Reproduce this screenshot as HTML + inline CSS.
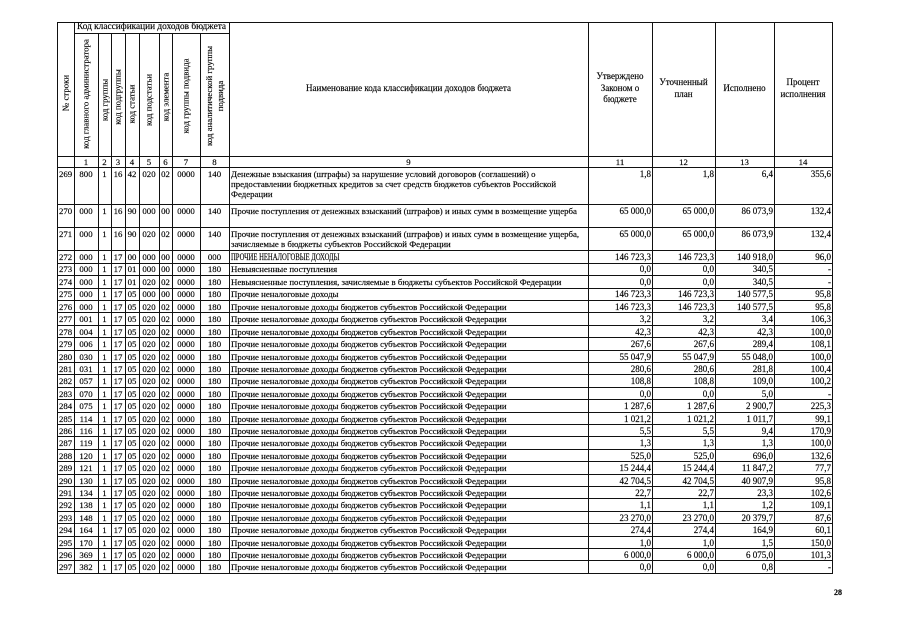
<!DOCTYPE html>
<html><head><meta charset="utf-8">
<style>
html,body{margin:0;padding:0;background:#fff;}
body{width:905px;height:640px;position:relative;overflow:hidden;font-family:"Liberation Serif","Noto Serif CJK SC",serif;color:#000;-webkit-text-stroke:0.15px #000;}
.v{position:absolute;width:1px;background:#111;}
.h{position:absolute;height:1px;background:#111;}
.r{position:absolute;left:0;width:905px;height:12px;font-size:8.8px;}
.r span{position:absolute;top:1px;line-height:10px;white-space:nowrap;}
.c0{left:59px;}
.c1{left:74px;width:24px;text-align:center;}
.c2{left:98px;width:13px;text-align:center;}
.c3{left:111px;width:14px;text-align:center;}
.c4{left:125px;width:14px;text-align:center;}
.c5{left:139px;width:20px;text-align:center;}
.c6{left:159px;width:13px;text-align:center;}
.c7{left:172px;width:28px;text-align:center;}
.c8{left:200px;width:29px;text-align:center;}
.c9{left:231px;}
.c10{left:588px;width:63px;text-align:right;font-size:9px;}
.c11{left:652px;width:62px;text-align:right;font-size:9px;}
.c12{left:715px;width:58px;text-align:right;font-size:9px;}
.c13{left:774px;width:57px;text-align:right;font-size:9px;}
.rot{position:absolute;transform:translate(-50%,-50%) rotate(-90deg);white-space:nowrap;font-size:8.8px;line-height:11px;text-align:center;}
.hd{position:absolute;font-size:9px;line-height:11.7px;text-align:center;white-space:nowrap;}
.caps{display:inline-block;font-size:9.5px;transform:scaleX(0.7);transform-origin:left center;}
</style></head><body>

<!-- vertical lines -->
<div class="v" style="left:57px;top:22px;height:552px"></div>
<div class="v" style="left:74px;top:22px;height:552px"></div>
<div class="v" style="left:98px;top:33px;height:541px"></div>
<div class="v" style="left:111px;top:33px;height:541px"></div>
<div class="v" style="left:125px;top:33px;height:541px"></div>
<div class="v" style="left:139px;top:33px;height:541px"></div>
<div class="v" style="left:159px;top:33px;height:541px"></div>
<div class="v" style="left:172px;top:33px;height:541px"></div>
<div class="v" style="left:200px;top:33px;height:541px"></div>
<div class="v" style="left:229px;top:22px;height:552px"></div>
<div class="v" style="left:588px;top:22px;height:552px"></div>
<div class="v" style="left:652px;top:22px;height:552px"></div>
<div class="v" style="left:715px;top:22px;height:552px"></div>
<div class="v" style="left:774px;top:22px;height:552px"></div>
<div class="v" style="left:832px;top:22px;height:552px"></div>

<!-- horizontal lines -->
<div class="h" style="left:57px;width:776px;top:22px"></div>
<div class="h" style="left:74px;width:155px;top:33px"></div>
<div class="h" style="left:57px;width:776px;top:156px"></div>
<div class="h" style="left:57px;width:776px;top:167px"></div>
<div class="h" style="left:57px;width:776px;top:204px"></div>
<div class="h" style="left:57px;width:776px;top:227px"></div>
<div class="h" style="left:57px;width:776px;top:250px"></div>
<div class="h" style="left:57px;width:776px;top:263px"></div>
<div class="h" style="left:57px;width:776px;top:275px"></div>
<div class="h" style="left:57px;width:776px;top:288px"></div>
<div class="h" style="left:57px;width:776px;top:300px"></div>
<div class="h" style="left:57px;width:776px;top:312px"></div>
<div class="h" style="left:57px;width:776px;top:325px"></div>
<div class="h" style="left:57px;width:776px;top:337px"></div>
<div class="h" style="left:57px;width:776px;top:350px"></div>
<div class="h" style="left:57px;width:776px;top:362px"></div>
<div class="h" style="left:57px;width:776px;top:374px"></div>
<div class="h" style="left:57px;width:776px;top:387px"></div>
<div class="h" style="left:57px;width:776px;top:399px"></div>
<div class="h" style="left:57px;width:776px;top:412px"></div>
<div class="h" style="left:57px;width:776px;top:424px"></div>
<div class="h" style="left:57px;width:776px;top:436px"></div>
<div class="h" style="left:57px;width:776px;top:449px"></div>
<div class="h" style="left:57px;width:776px;top:461px"></div>
<div class="h" style="left:57px;width:776px;top:474px"></div>
<div class="h" style="left:57px;width:776px;top:486px"></div>
<div class="h" style="left:57px;width:776px;top:498px"></div>
<div class="h" style="left:57px;width:776px;top:511px"></div>
<div class="h" style="left:57px;width:776px;top:523px"></div>
<div class="h" style="left:57px;width:776px;top:536px"></div>
<div class="h" style="left:57px;width:776px;top:548px"></div>
<div class="h" style="left:57px;width:776px;top:560px"></div>
<div class="h" style="left:57px;width:776px;top:573px"></div>

<!-- header -->
<div class="hd" style="left:74px;width:155px;top:22px;font-size:9.3px;line-height:11px">Код классификации доходов бюджета</div>
<div class="rot" style="left:66px;top:93px">№ строки</div>
<div class="rot" style="left:86px;top:94px">код главного администратора</div>
<div class="rot" style="left:105px;top:100px">код группы</div>
<div class="rot" style="left:118px;top:97px">код подгруппы</div>
<div class="rot" style="left:132px;top:104px">код статьи</div>
<div class="rot" style="left:149px;top:100px">код подстатьи</div>
<div class="rot" style="left:166px;top:97px">код элемента</div>
<div class="rot" style="left:186px;top:96px">код группы подвида</div>
<div class="rot" style="left:215px;top:96px">код аналитической группы<br>подвида</div>

<div class="hd" style="left:229px;width:359px;top:83px">Наименование кода классификации доходов бюджета</div>
<div class="hd" style="left:588px;width:64px;top:71px">Утверждено<br>Законом о<br>бюджете</div>
<div class="hd" style="left:652px;width:63px;top:77px">Уточненный<br>план</div>
<div class="hd" style="left:715px;width:59px;top:83px">Исполнено</div>
<div class="hd" style="left:774px;width:58px;top:77px">Процент<br>исполнения</div>

<!-- column numbers row -->
<div class="r" style="top:156px"><span class="c1">1</span><span class="c2">2</span><span class="c3">3</span><span class="c4">4</span><span class="c5">5</span><span class="c6">6</span><span class="c7">7</span><span class="c8">8</span><span style="left:229px;width:359px;text-align:center">9</span><span style="left:588px;width:64px;text-align:center">11</span><span style="left:652px;width:63px;text-align:center">12</span><span style="left:715px;width:59px;text-align:center">13</span><span style="left:774px;width:58px;text-align:center">14</span></div>

<!-- data rows -->
<div class="r" style="top:168px;height:36px"><span class="c0">269</span><span class="c1">800</span><span class="c2">1</span><span class="c3">16</span><span class="c4">42</span><span class="c5">020</span><span class="c6">02</span><span class="c7">0000</span><span class="c8">140</span><span class="c9">Денежные взыскания (штрафы) за нарушение условий договоров (соглашений) о<br>предоставлении бюджетных кредитов за счет средств бюджетов субъектов Российской<br>Федерации</span><span class="c10">1,8</span><span class="c11">1,8</span><span class="c12">6,4</span><span class="c13">355,6</span></div>

<div class="r" style="top:205px;height:22px"><span class="c0">270</span><span class="c1">000</span><span class="c2">1</span><span class="c3">16</span><span class="c4">90</span><span class="c5">000</span><span class="c6">00</span><span class="c7">0000</span><span class="c8">140</span><span class="c9">Прочие поступления от денежных взысканий (штрафов) и иных сумм в возмещение ущерба</span><span class="c10">65 000,0</span><span class="c11">65 000,0</span><span class="c12">86 073,9</span><span class="c13">132,4</span></div>

<div class="r" style="top:228px;height:22px"><span class="c0">271</span><span class="c1">000</span><span class="c2">1</span><span class="c3">16</span><span class="c4">90</span><span class="c5">020</span><span class="c6">02</span><span class="c7">0000</span><span class="c8">140</span><span class="c9">Прочие поступления от денежных взысканий (штрафов) и иных сумм в возмещение ущерба,<br>зачисляемые в бюджеты субъектов Российской Федерации</span><span class="c10">65 000,0</span><span class="c11">65 000,0</span><span class="c12">86 073,9</span><span class="c13">132,4</span></div>

<div class="r" style="top:251px"><span class="c0">272</span><span class="c1">000</span><span class="c2">1</span><span class="c3">17</span><span class="c4">00</span><span class="c5">000</span><span class="c6">00</span><span class="c7">0000</span><span class="c8">000</span><span class="c9"><span class="caps" style="position:static">ПРОЧИЕ НЕНАЛОГОВЫЕ ДОХОДЫ</span></span><span class="c10">146 723,3</span><span class="c11">146 723,3</span><span class="c12">140 918,0</span><span class="c13">96,0</span></div>

<div class="r" style="top:263px"><span class="c0">273</span><span class="c1">000</span><span class="c2">1</span><span class="c3">17</span><span class="c4">01</span><span class="c5">000</span><span class="c6">00</span><span class="c7">0000</span><span class="c8">180</span><span class="c9">Невыясненные поступления</span><span class="c10">0,0</span><span class="c11">0,0</span><span class="c12">340,5</span><span class="c13">-</span></div>

<div class="r" style="top:276px"><span class="c0">274</span><span class="c1">000</span><span class="c2">1</span><span class="c3">17</span><span class="c4">01</span><span class="c5">020</span><span class="c6">02</span><span class="c7">0000</span><span class="c8">180</span><span class="c9">Невыясненные поступления, зачисляемые в бюджеты субъектов Российской Федерации</span><span class="c10">0,0</span><span class="c11">0,0</span><span class="c12">340,5</span><span class="c13">-</span></div>

<div class="r" style="top:288px"><span class="c0">275</span><span class="c1">000</span><span class="c2">1</span><span class="c3">17</span><span class="c4">05</span><span class="c5">000</span><span class="c6">00</span><span class="c7">0000</span><span class="c8">180</span><span class="c9">Прочие неналоговые доходы</span><span class="c10">146 723,3</span><span class="c11">146 723,3</span><span class="c12">140 577,5</span><span class="c13">95,8</span></div>

<div class="r" style="top:301px"><span class="c0">276</span><span class="c1">000</span><span class="c2">1</span><span class="c3">17</span><span class="c4">05</span><span class="c5">020</span><span class="c6">02</span><span class="c7">0000</span><span class="c8">180</span><span class="c9">Прочие неналоговые доходы бюджетов субъектов Российской Федерации</span><span class="c10">146 723,3</span><span class="c11">146 723,3</span><span class="c12">140 577,5</span><span class="c13">95,8</span></div>

<div class="r" style="top:313px"><span class="c0">277</span><span class="c1">001</span><span class="c2">1</span><span class="c3">17</span><span class="c4">05</span><span class="c5">020</span><span class="c6">02</span><span class="c7">0000</span><span class="c8">180</span><span class="c9">Прочие неналоговые доходы бюджетов субъектов Российской Федерации</span><span class="c10">3,2</span><span class="c11">3,2</span><span class="c12">3,4</span><span class="c13">106,3</span></div>

<div class="r" style="top:326px"><span class="c0">278</span><span class="c1">004</span><span class="c2">1</span><span class="c3">17</span><span class="c4">05</span><span class="c5">020</span><span class="c6">02</span><span class="c7">0000</span><span class="c8">180</span><span class="c9">Прочие неналоговые доходы бюджетов субъектов Российской Федерации</span><span class="c10">42,3</span><span class="c11">42,3</span><span class="c12">42,3</span><span class="c13">100,0</span></div>

<div class="r" style="top:338px"><span class="c0">279</span><span class="c1">006</span><span class="c2">1</span><span class="c3">17</span><span class="c4">05</span><span class="c5">020</span><span class="c6">02</span><span class="c7">0000</span><span class="c8">180</span><span class="c9">Прочие неналоговые доходы бюджетов субъектов Российской Федерации</span><span class="c10">267,6</span><span class="c11">267,6</span><span class="c12">289,4</span><span class="c13">108,1</span></div>

<div class="r" style="top:351px"><span class="c0">280</span><span class="c1">030</span><span class="c2">1</span><span class="c3">17</span><span class="c4">05</span><span class="c5">020</span><span class="c6">02</span><span class="c7">0000</span><span class="c8">180</span><span class="c9">Прочие неналоговые доходы бюджетов субъектов Российской Федерации</span><span class="c10">55 047,9</span><span class="c11">55 047,9</span><span class="c12">55 048,0</span><span class="c13">100,0</span></div>

<div class="r" style="top:363px"><span class="c0">281</span><span class="c1">031</span><span class="c2">1</span><span class="c3">17</span><span class="c4">05</span><span class="c5">020</span><span class="c6">02</span><span class="c7">0000</span><span class="c8">180</span><span class="c9">Прочие неналоговые доходы бюджетов субъектов Российской Федерации</span><span class="c10">280,6</span><span class="c11">280,6</span><span class="c12">281,8</span><span class="c13">100,4</span></div>

<div class="r" style="top:375px"><span class="c0">282</span><span class="c1">057</span><span class="c2">1</span><span class="c3">17</span><span class="c4">05</span><span class="c5">020</span><span class="c6">02</span><span class="c7">0000</span><span class="c8">180</span><span class="c9">Прочие неналоговые доходы бюджетов субъектов Российской Федерации</span><span class="c10">108,8</span><span class="c11">108,8</span><span class="c12">109,0</span><span class="c13">100,2</span></div>

<div class="r" style="top:388px"><span class="c0">283</span><span class="c1">070</span><span class="c2">1</span><span class="c3">17</span><span class="c4">05</span><span class="c5">020</span><span class="c6">02</span><span class="c7">0000</span><span class="c8">180</span><span class="c9">Прочие неналоговые доходы бюджетов субъектов Российской Федерации</span><span class="c10">0,0</span><span class="c11">0,0</span><span class="c12">5,0</span><span class="c13">-</span></div>

<div class="r" style="top:400px"><span class="c0">284</span><span class="c1">075</span><span class="c2">1</span><span class="c3">17</span><span class="c4">05</span><span class="c5">020</span><span class="c6">02</span><span class="c7">0000</span><span class="c8">180</span><span class="c9">Прочие неналоговые доходы бюджетов субъектов Российской Федерации</span><span class="c10">1 287,6</span><span class="c11">1 287,6</span><span class="c12">2 900,7</span><span class="c13">225,3</span></div>

<div class="r" style="top:413px"><span class="c0">285</span><span class="c1">114</span><span class="c2">1</span><span class="c3">17</span><span class="c4">05</span><span class="c5">020</span><span class="c6">02</span><span class="c7">0000</span><span class="c8">180</span><span class="c9">Прочие неналоговые доходы бюджетов субъектов Российской Федерации</span><span class="c10">1 021,2</span><span class="c11">1 021,2</span><span class="c12">1 011,7</span><span class="c13">99,1</span></div>

<div class="r" style="top:425px"><span class="c0">286</span><span class="c1">116</span><span class="c2">1</span><span class="c3">17</span><span class="c4">05</span><span class="c5">020</span><span class="c6">02</span><span class="c7">0000</span><span class="c8">180</span><span class="c9">Прочие неналоговые доходы бюджетов субъектов Российской Федерации</span><span class="c10">5,5</span><span class="c11">5,5</span><span class="c12">9,4</span><span class="c13">170,9</span></div>

<div class="r" style="top:437px"><span class="c0">287</span><span class="c1">119</span><span class="c2">1</span><span class="c3">17</span><span class="c4">05</span><span class="c5">020</span><span class="c6">02</span><span class="c7">0000</span><span class="c8">180</span><span class="c9">Прочие неналоговые доходы бюджетов субъектов Российской Федерации</span><span class="c10">1,3</span><span class="c11">1,3</span><span class="c12">1,3</span><span class="c13">100,0</span></div>

<div class="r" style="top:450px"><span class="c0">288</span><span class="c1">120</span><span class="c2">1</span><span class="c3">17</span><span class="c4">05</span><span class="c5">020</span><span class="c6">02</span><span class="c7">0000</span><span class="c8">180</span><span class="c9">Прочие неналоговые доходы бюджетов субъектов Российской Федерации</span><span class="c10">525,0</span><span class="c11">525,0</span><span class="c12">696,0</span><span class="c13">132,6</span></div>

<div class="r" style="top:462px"><span class="c0">289</span><span class="c1">121</span><span class="c2">1</span><span class="c3">17</span><span class="c4">05</span><span class="c5">020</span><span class="c6">02</span><span class="c7">0000</span><span class="c8">180</span><span class="c9">Прочие неналоговые доходы бюджетов субъектов Российской Федерации</span><span class="c10">15 244,4</span><span class="c11">15 244,4</span><span class="c12">11 847,2</span><span class="c13">77,7</span></div>

<div class="r" style="top:475px"><span class="c0">290</span><span class="c1">130</span><span class="c2">1</span><span class="c3">17</span><span class="c4">05</span><span class="c5">020</span><span class="c6">02</span><span class="c7">0000</span><span class="c8">180</span><span class="c9">Прочие неналоговые доходы бюджетов субъектов Российской Федерации</span><span class="c10">42 704,5</span><span class="c11">42 704,5</span><span class="c12">40 907,9</span><span class="c13">95,8</span></div>

<div class="r" style="top:487px"><span class="c0">291</span><span class="c1">134</span><span class="c2">1</span><span class="c3">17</span><span class="c4">05</span><span class="c5">020</span><span class="c6">02</span><span class="c7">0000</span><span class="c8">180</span><span class="c9">Прочие неналоговые доходы бюджетов субъектов Российской Федерации</span><span class="c10">22,7</span><span class="c11">22,7</span><span class="c12">23,3</span><span class="c13">102,6</span></div>

<div class="r" style="top:499px"><span class="c0">292</span><span class="c1">138</span><span class="c2">1</span><span class="c3">17</span><span class="c4">05</span><span class="c5">020</span><span class="c6">02</span><span class="c7">0000</span><span class="c8">180</span><span class="c9">Прочие неналоговые доходы бюджетов субъектов Российской Федерации</span><span class="c10">1,1</span><span class="c11">1,1</span><span class="c12">1,2</span><span class="c13">109,1</span></div>

<div class="r" style="top:512px"><span class="c0">293</span><span class="c1">148</span><span class="c2">1</span><span class="c3">17</span><span class="c4">05</span><span class="c5">020</span><span class="c6">02</span><span class="c7">0000</span><span class="c8">180</span><span class="c9">Прочие неналоговые доходы бюджетов субъектов Российской Федерации</span><span class="c10">23 270,0</span><span class="c11">23 270,0</span><span class="c12">20 379,7</span><span class="c13">87,6</span></div>

<div class="r" style="top:524px"><span class="c0">294</span><span class="c1">164</span><span class="c2">1</span><span class="c3">17</span><span class="c4">05</span><span class="c5">020</span><span class="c6">02</span><span class="c7">0000</span><span class="c8">180</span><span class="c9">Прочие неналоговые доходы бюджетов субъектов Российской Федерации</span><span class="c10">274,4</span><span class="c11">274,4</span><span class="c12">164,9</span><span class="c13">60,1</span></div>

<div class="r" style="top:537px"><span class="c0">295</span><span class="c1">170</span><span class="c2">1</span><span class="c3">17</span><span class="c4">05</span><span class="c5">020</span><span class="c6">02</span><span class="c7">0000</span><span class="c8">180</span><span class="c9">Прочие неналоговые доходы бюджетов субъектов Российской Федерации</span><span class="c10">1,0</span><span class="c11">1,0</span><span class="c12">1,5</span><span class="c13">150,0</span></div>

<div class="r" style="top:549px"><span class="c0">296</span><span class="c1">369</span><span class="c2">1</span><span class="c3">17</span><span class="c4">05</span><span class="c5">020</span><span class="c6">02</span><span class="c7">0000</span><span class="c8">180</span><span class="c9">Прочие неналоговые доходы бюджетов субъектов Российской Федерации</span><span class="c10">6 000,0</span><span class="c11">6 000,0</span><span class="c12">6 075,0</span><span class="c13">101,3</span></div>

<div class="r" style="top:561px"><span class="c0">297</span><span class="c1">382</span><span class="c2">1</span><span class="c3">17</span><span class="c4">05</span><span class="c5">020</span><span class="c6">02</span><span class="c7">0000</span><span class="c8">180</span><span class="c9">Прочие неналоговые доходы бюджетов субъектов Российской Федерации</span><span class="c10">0,0</span><span class="c11">0,0</span><span class="c12">0,8</span><span class="c13">-</span></div>

<!-- page number -->
<div style="position:absolute;left:834px;top:588px;font-size:8px;font-weight:bold;line-height:10px">28</div>

</body></html>
